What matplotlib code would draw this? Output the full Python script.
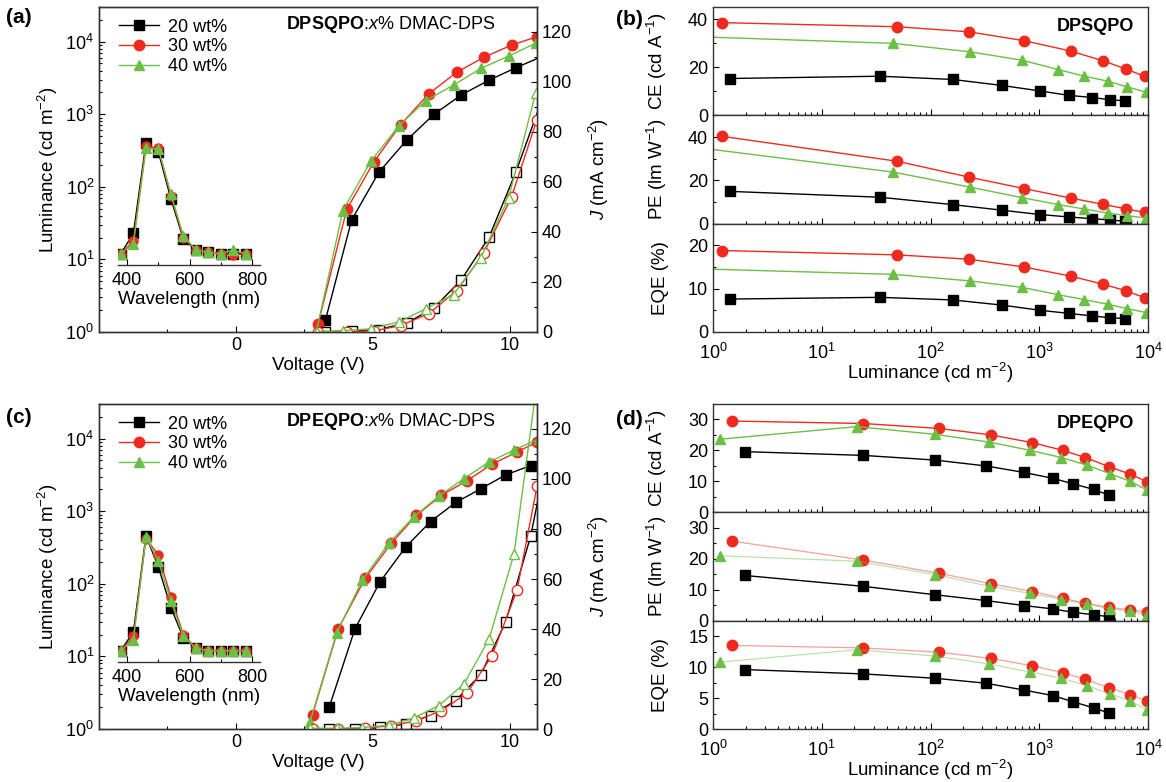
import numpy as np
import matplotlib
matplotlib.use("Agg")
import matplotlib.pyplot as plt
from matplotlib.ticker import MultipleLocator, FixedLocator, NullFormatter

plt.rcParams['font.family'] = ['Liberation Sans', 'DejaVu Sans']
plt.rcParams['mathtext.fontset'] = 'custom'
plt.rcParams['mathtext.rm'] = 'Liberation Sans'
plt.rcParams['mathtext.it'] = 'Liberation Sans:italic'
plt.rcParams['mathtext.bf'] = 'Liberation Sans:bold'
plt.rcParams['font.size'] = 13
plt.rcParams['axes.labelsize'] = 13.5
plt.rcParams['axes.linewidth'] = 1.0
plt.rcParams['axes.edgecolor'] = '#333333'

# Series
labels = ['20 wt%', '30 wt%', '40 wt%']
colors = ['#000000', '#ee2a1e', '#6cbf45']
markers = ['s', 'o', '^']

# EL spectra (inset)
wavelength = [380, 420, 460, 500, 540, 580, 620, 660, 700, 740, 780]
a_el_20 = [12, 23, 400, 300, 68, 19, 13.5, 12.5, 12, 12, 12]
a_el_30 = [12, 18, 360, 340, 75, 20, 13.5, 12.5, 12, 11.5, 12]
a_el_40 = [12, 16.5, 340, 330, 80, 21, 13.5, 12.5, 12, 13.5, 12]
c_el_20 = [12, 22, 460, 170, 47, 18, 13, 12, 12, 12, 12]
c_el_30 = [12, 19, 420, 250, 66, 20, 13, 12, 12, 12, 12]
c_el_40 = [12, 17, 440, 205, 58, 19, 13, 12, 12, 12, 12]

# (a) DPSQPO: voltage, luminance, current density
a_v_20 = [3.27, 4.23, 5.22, 6.24, 7.24, 8.23, 9.25, 10.23, 11.25]
a_lum_20 = [1.45, 35, 158, 440, 1000, 1840, 2950, 4370, 6400]
a_j_20 = [0.1, 0.3, 1.0, 3.6, 9.7, 20.8, 38, 64, 95]
a_v_30 = [3.0, 4.05, 5.04, 6.02, 7.04, 8.06, 9.05, 10.07, 11.0]
a_lum_30 = [1.28, 49, 220, 720, 1900, 3770, 6060, 8950, 11700]
a_j_30 = [0.2, 0.2, 0.4, 2.6, 7.3, 16.5, 31.5, 54, 85]
a_v_40 = [2.95, 3.91, 4.93, 5.95, 6.94, 7.95, 8.95, 9.96, 10.95]
a_lum_40 = [1.05, 47, 225, 690, 1540, 2520, 4280, 6320, 9500]
a_j_40 = [0.2, 0.5, 1.3, 4.0, 9.3, 15, 29.8, 53.6, 95.6]

# (c) DPEQPO
c_v_20 = [3.41, 4.35, 5.27, 6.2, 7.11, 8.03, 8.95, 9.85, 10.77, 11.7]
c_lum_20 = [2.0, 24, 107, 320, 720, 1320, 2040, 3160, 4260, 5800]
c_j_20 = [0, 0.2, 0.7, 2.0, 5.4, 11.4, 21.8, 42.7, 77.2, 128]
c_v_30 = [2.8, 3.74, 4.73, 5.68, 6.59, 7.51, 8.44, 9.35, 10.27, 11.0]
c_lum_30 = [1.58, 24, 120, 363, 875, 1660, 2620, 4440, 6560, 8950]
c_j_30 = [0, 0, 0.4, 1.3, 3.3, 7.4, 14.3, 29.2, 55.5, 97]
c_v_40 = [2.7, 3.68, 4.62, 5.58, 6.49, 7.42, 8.33, 9.25, 10.16, 11.08]
c_lum_40 = [1.23, 21, 112, 360, 830, 1620, 2810, 4760, 6960, 10000]
c_j_40 = [0.3, 0.3, 0.6, 1.5, 4.3, 9.4, 18, 36, 70, 145]

# (b) DPSQPO efficiencies
b_lum_20 = [1.43, 34.3, 160, 457, 1025, 1870, 3080, 4450, 6200]
b_ce_20 = [15.3, 16.25, 14.9, 12.4, 10.1, 8.3, 7.4, 6.5, 6.0]
b_pe_20 = [14.9, 12.2, 8.8, 6.2, 4.2, 3.1, 2.3, 1.7, 1.1]
b_eqe_20 = [7.6, 8.0, 7.4, 6.2, 5.0, 4.3, 3.7, 3.3, 3.1]
b_lum_30 = [1.22, 49.5, 225, 725, 1950, 3890, 6310, 9300]
b_ce_30 = [38.5, 36.8, 34.7, 31.0, 26.7, 22.6, 19.2, 16.2]
b_pe_30 = [40.3, 28.8, 21.5, 16.2, 11.8, 8.9, 6.8, 5.2]
b_eqe_30 = [18.8, 17.8, 16.8, 15.0, 12.9, 11.0, 9.5, 7.9]
b_lum_40 = [0.5, 45.5, 229, 695, 1500, 2560, 4270, 6460, 9500]
b_ce_40 = [32.9, 29.9, 26.4, 22.9, 19.0, 16.3, 14.2, 11.8, 9.7]
b_pe_40 = [36.1, 23.8, 16.9, 12.0, 8.8, 6.8, 4.9, 3.7, 2.6]
b_eqe_40 = [14.7, 13.3, 11.8, 10.3, 8.6, 7.5, 6.4, 5.4, 4.5]

# (d) DPEQPO efficiencies
d_lum_20 = [1.96, 24, 109, 322, 720, 1330, 2050, 3170, 4340]
d_ce_20 = [19.6, 18.4, 16.9, 15.0, 12.9, 11.0, 9.2, 7.4, 5.6]
d_pe_20 = [14.6, 11.1, 8.4, 6.5, 4.9, 3.8, 2.7, 1.9, 1.3]
d_eqe_20 = [9.6, 8.9, 8.2, 7.4, 6.3, 5.4, 4.4, 3.4, 2.6]
d_lum_30 = [1.49, 24, 120, 363, 865, 1660, 2650, 4350, 6900, 9800]
d_ce_30 = [29.5, 28.7, 27.1, 25.0, 22.5, 20.0, 17.7, 14.8, 12.3, 9.9]
d_pe_30 = [25.7, 19.6, 15.3, 11.9, 9.4, 7.2, 5.7, 4.3, 3.5, 2.7]
d_eqe_30 = [13.5, 13.1, 12.4, 11.4, 10.2, 9.1, 8.0, 6.7, 5.5, 4.5]
d_lum_40 = [1.15, 21, 110, 347, 830, 1600, 2760, 4460, 6870, 9800]
d_ce_40 = [23.6, 27.7, 25.2, 22.7, 20.0, 17.7, 15.2, 12.5, 10.0, 7.2]
d_pe_40 = [21.0, 19.2, 14.9, 11.1, 8.8, 6.8, 5.4, 3.8, 3.0, 1.9]
d_eqe_40 = [10.8, 12.8, 11.8, 10.5, 9.2, 8.2, 7.0, 5.7, 4.5, 3.1]

W, H = 1166, 782
fig = plt.figure(figsize=(W / 100, H / 100), dpi=100)


def box(x0, y0, x1, y1):
    return [x0 / W, 1 - y1 / H, (x1 - x0) / W, (y1 - y0) / H]


def ticks_in(ax, **kw):
    ax.tick_params(which='both', direction='in', width=0.8, **kw)
    ax.tick_params(which='major', length=4.5)
    ax.tick_params(which='minor', length=2.5)


def jv_panel(ax, vs, lums, js, els, name):
    ax.set_yscale('log')
    ax.set_xlim(-5, 11)
    ax.set_ylim(1, 3e4)
    for v, lum, c, m, lab in zip(vs, lums, colors, markers, labels):
        ax.plot(v, lum, color=c, marker=m, ms=7.5, lw=1, label=lab)
    ax.set_xticks([0, 5, 10])
    ax.xaxis.set_minor_locator(FixedLocator([-2.5, 2.5, 7.5]))
    ticks_in(ax, right=False, top=False)
    ax.set_xlabel('Voltage (V)', labelpad=2)
    ax.set_ylabel('Luminance (cd m$^{-2}$)')
    ax.yaxis.set_label_coords(-0.09, 0.5)

    axr = ax.twinx()
    for v, j, c, m in zip(vs, js, colors, markers):
        axr.plot(v, j, color=c, marker=m, ms=7.5, lw=1, mfc='white', mec=c)
    axr.set_ylim(0, 130)
    axr.yaxis.set_major_locator(MultipleLocator(20))
    axr.yaxis.set_minor_locator(MultipleLocator(10))
    ticks_in(axr, left=False, top=False)
    axr.set_ylabel('$J$ (mA cm$^{-2}$)')
    axr.yaxis.set_label_coords(1.115, 0.5)

    ax.legend(loc='upper left', bbox_to_anchor=(0.02, 1.0), frameon=False,
              handlelength=2.2, handletextpad=0.5, labelspacing=0.15,
              borderaxespad=0.25, fontsize=13)
    ax.text(0.427, 0.945, r'$\bf{' + name + r'}$:$x$% DMAC-DPS',
            transform=ax.transAxes, ha='left', va='center', fontsize=13)

    # EL inset
    f = 0.205
    ins = ax.inset_axes([0.043, f, 0.325, 1 - f])
    ins.patch.set_alpha(0)
    ins.set_yscale('log')
    ins.set_ylim(10 ** (np.log10(3e4) * f), 3e4)
    ins.set_xlim(370, 826)
    for el, c, m in zip(els, colors, markers):
        ins.plot(wavelength, el, color=c, marker=m, ms=6.5, lw=1)
    for s in ['left', 'right', 'top']:
        ins.spines[s].set_visible(False)
    ins.set_yticks([])
    ins.yaxis.set_minor_locator(FixedLocator([]))
    ins.set_xticks([400, 600, 800])
    ins.xaxis.set_minor_locator(FixedLocator([500, 700]))
    ins.tick_params(which='both', direction='in', width=0.8, pad=5)
    ins.tick_params(which='major', length=4.5)
    ins.tick_params(which='minor', length=2.5)
    ins.set_xlabel('Wavelength (nm)', labelpad=1)


def eff_panel(x0, y0, x1, y1, lums, data, ylims, majors, minors, ylabels, name, faded):
    hh = (y1 - y0) / 3
    axes = []
    for k in range(3):
        ax = fig.add_axes(box(x0, y0 + k * hh, x1, y0 + (k + 1) * hh))
        ax.set_xscale('log')
        ax.set_xlim(1, 1e4)
        ax.set_ylim(0, ylims[k])
        ax.yaxis.set_major_locator(MultipleLocator(majors[k]))
        ax.yaxis.set_minor_locator(MultipleLocator(minors[k]))
        for i in range(3):
            x = lums[i]
            y = data[k][i]
            c = colors[i]
            if faded and k > 0 and i > 0:
                ax.plot(x, y, color=c, lw=0.9, alpha=0.45)
                ax.plot(x, y, ls='none', color=c, marker=markers[i], ms=7.5)
            else:
                ax.plot(x, y, color=c, lw=1, marker=markers[i], ms=7.5)
        ticks_in(ax, top=False, right=False)
        ax.set_ylabel(ylabels[k])
        ax.yaxis.set_label_coords(-0.1, 0.5)
        if k < 2:
            ax.xaxis.set_major_formatter(NullFormatter())
        else:
            ax.tick_params(axis='x', pad=7.5)
            ax.set_xlabel('Luminance (cd m$^{-2}$)', labelpad=-1)
        axes.append(ax)
    axes[0].text(0.88, 0.82, name, transform=axes[0].transAxes, ha='center',
                 va='center', fontweight='bold', fontsize=13)
    return axes


ax_a = fig.add_axes(box(99, 7, 537, 332))
jv_panel(ax_a, [a_v_20, a_v_30, a_v_40], [a_lum_20, a_lum_30, a_lum_40],
         [a_j_20, a_j_30, a_j_40], [a_el_20, a_el_30, a_el_40], 'DPSQPO')

ax_c = fig.add_axes(box(99, 404, 537, 729))
jv_panel(ax_c, [c_v_20, c_v_30, c_v_40], [c_lum_20, c_lum_30, c_lum_40],
         [c_j_20, c_j_30, c_j_40], [c_el_20, c_el_30, c_el_40], 'DPEQPO')

eff_ylabels = ['CE (cd A$^{-1}$)', 'PE (lm W$^{-1}$)', 'EQE (%)']
eff_panel(713, 7, 1148, 332, [b_lum_20, b_lum_30, b_lum_40],
          [[b_ce_20, b_ce_30, b_ce_40], [b_pe_20, b_pe_30, b_pe_40],
           [b_eqe_20, b_eqe_30, b_eqe_40]],
          [45, 50, 25], [20, 20, 10], [10, 10, 5], eff_ylabels, 'DPSQPO', False)
eff_panel(713, 404, 1148, 729, [d_lum_20, d_lum_30, d_lum_40],
          [[d_ce_20, d_ce_30, d_ce_40], [d_pe_20, d_pe_30, d_pe_40],
           [d_eqe_20, d_eqe_30, d_eqe_40]],
          [35, 35, 17.5], [10, 10, 5], [5, 5, 2.5], eff_ylabels, 'DPEQPO', True)

# Panel labels
for txt, x, y in [('(a)', 6, 8), ('(b)', 616, 10), ('(c)', 6, 408), ('(d)', 616, 410)]:
    fig.text(x / W, 1 - y / H, txt, fontsize=15, fontweight='bold', va='top', ha='left')

fig.savefig('out.png', dpi=100)
